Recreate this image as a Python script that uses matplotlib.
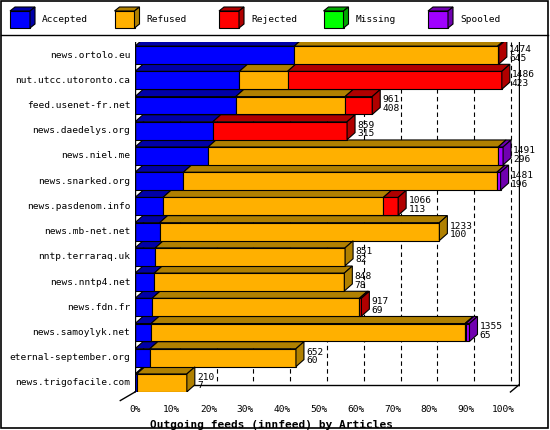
import matplotlib
matplotlib.use("Agg")
import matplotlib.pyplot as plt
from matplotlib.patches import Polygon, Rectangle

hosts = ["news.ortolo.eu", "nut.utcc.utoronto.ca", "feed.usenet-fr.net", "news.daedelys.org",
         "news.niel.me", "news.snarked.org", "news.pasdenom.info", "news.mb-net.net",
         "nntp.terraraq.uk", "news.nntp4.net", "news.fdn.fr", "news.samoylyk.net",
         "eternal-september.org", "news.trigofacile.com"]
offered  = [1474, 1486, 961, 859, 1491, 1481, 1066, 1233, 851, 848, 917, 1355, 652, 210]
accepted = [645, 423, 408, 315, 296, 196, 113, 100, 82, 78, 69, 65, 60, 7]
refused  = [824, 195, 443, 0, 1175, 1270, 893, 1133, 769, 770, 840, 1272, 592, 203]
rejected = [5, 868, 110, 544, 0, 0, 60, 0, 0, 0, 8, 3, 0, 0]
missing  = [0] * 14
spooled  = [0, 0, 0, 0, 20, 15, 0, 0, 0, 0, 0, 15, 0, 0]
series_names = ["Accepted", "Refused", "Rejected", "Missing", "Spooled"]
fronts = ["#0000ff", "#ffb000", "#ff0000", "#00ff00", "#a000ff"]
sides = ["#0000a8", "#b08000", "#b00000", "#00a800", "#7000b0"]
mono = "DejaVu Sans Mono"
fs = 6.8

fig = plt.figure(figsize=(5.5, 4.3), dpi=100)
fig.patch.set_facecolor("white")
ax = fig.add_axes([135/550, 38/430, 385/550, 350/430])
ax.set_xlim(0, 104.6)
ax.set_ylim(13.36, -0.52)
for s in ax.spines.values():
    s.set_visible(False)
ax.set_xticks([]); ax.set_yticks([])

dx, dy, h = 2.17, 0.28, 0.71
scale = 100.0 / max(offered)
series = [accepted, refused, rejected, missing, spooled]

for t in range(0, 101, 10):
    ax.plot([t + dx, t + dx], [-0.52, 13.36 - dy - 0.05], ls=(0, (4, 3)), color="black", lw=0.8, zorder=0)
ax.plot([dx, dx], [-0.52, 13.36 - dy], color="black", lw=1, zorder=0)
ax.plot([104.3, 104.3], [-0.52, 13.36 - dy], color="black", lw=1, zorder=0)
ax.plot([0, 0], [-0.52, 13.36], color="black", lw=1, zorder=5)
ax.plot([dx, 104.3], [13.36 - dy, 13.36 - dy], color="black", lw=1, zorder=0)
ax.plot([0, dx], [13.36, 13.36 - dy], color="black", lw=1, zorder=0, clip_on=False)
ax.plot([-4, 0], [13.7, 13.36], color="black", lw=1, clip_on=False)
ax.plot([102, 104.3], [13.36, 13.36 - dy], color="black", lw=1, clip_on=False)

for i in range(len(hosts)):
    yt, yb = i - h/2, i + h/2
    x = 0.0
    last = None
    for k, ser in enumerate(series):
        v = ser[i] * scale
        if v <= 0:
            continue
        a, b = x, x + v
        ax.add_patch(Rectangle((a, yt), v, h, facecolor=fronts[k], edgecolor="black", lw=0.8, zorder=3))
        ax.add_patch(Polygon([(a, yt), (a+dx, yt-dy), (b+dx, yt-dy), (b, yt)], closed=True,
                             facecolor=sides[k], edgecolor="black", lw=0.8, zorder=2))
        x = b
        last = k
    ax.add_patch(Polygon([(x, yt), (x+dx, yt-dy), (x+dx, yb-dy), (x, yb)], closed=True,
                         facecolor=sides[last], edgecolor="black", lw=0.8, zorder=3))
    ax.text(x + dx + 0.6, i - 0.05, f"{offered[i]}\n{accepted[i]}", fontsize=fs, family=mono,
            va="center", ha="left", linespacing=0.95, zorder=4)
    ax.text(-1.3, i, hosts[i], fontsize=fs, family=mono, ha="right", va="center")

for t in range(0, 101, 10):
    ax.text(t, 14.05, f"{t}%", fontsize=fs, family=mono, ha="center", va="center")
ax.text(4, 14.65, "Outgoing feeds (innfeed) by Articles", fontsize=8, family=mono,
        fontweight="bold", ha="left", va="center")

ov = fig.add_axes([0, 0, 1, 1], zorder=-1)
ov.set_xlim(0, 550); ov.set_ylim(430, 0); ov.axis("off")
ov.add_patch(Rectangle((1, 1), 547, 427, fill=False, edgecolor="black", lw=1.2))
ov.plot([1, 548], [35, 35], color="black", lw=1)
for k, name in enumerate(series_names):
    x0 = 10 + k * 104.5
    ov.add_patch(Rectangle((x0, 11), 20, 17, facecolor=fronts[k], edgecolor="black", lw=0.8))
    ov.add_patch(Polygon([(x0, 11), (x0+5, 7), (x0+25, 7), (x0+20, 11)], facecolor=sides[k], edgecolor="black", lw=0.8))
    ov.add_patch(Polygon([(x0+20, 11), (x0+25, 7), (x0+25, 24), (x0+20, 28)], facecolor=sides[k], edgecolor="black", lw=0.8))
    ov.text(x0 + 32, 19.5, name, fontsize=fs, family=mono, va="center", ha="left")

fig.savefig("out.png", dpi=100)
